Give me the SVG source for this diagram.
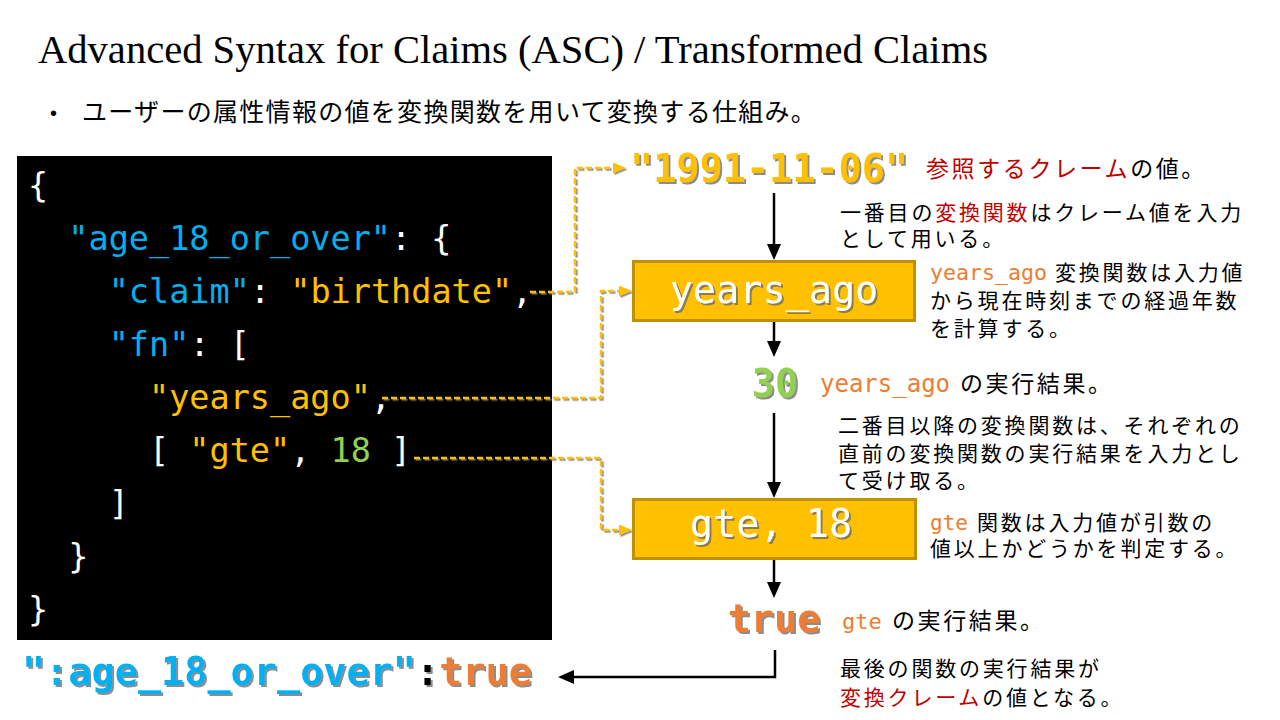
<svg xmlns="http://www.w3.org/2000/svg" width="1280" height="720" viewBox="0 0 1280 720">
<defs>
<style>
.title{font-family:"Liberation Serif","Noto Serif",serif;font-size:40px;fill:#000}
.jp{font-family:"Noto Sans CJK JP",sans-serif;font-size:21px;letter-spacing:2.8px;fill:#000}
.jpl{font-family:"Noto Sans CJK JP",sans-serif;font-size:23px;letter-spacing:2.6px;fill:#000}
.mono{font-family:"DejaVu Sans Mono","Liberation Mono",monospace;letter-spacing:0}
.code{font-family:"DejaVu Sans Mono","Liberation Mono",monospace;font-size:33.5px;fill:#fff}
.big{font-family:"DejaVu Sans Mono","Liberation Mono",monospace;font-size:38.5px}
.red{fill:#C00000}
.org{fill:#ED7D31}
.blu{fill:#00B0F0}
.gld{fill:#FFC000}
.grn{fill:#92D050}
.wht{fill:#fff}
.box{fill:#FFC000;stroke:#BF9000;stroke-width:3}
.arr{fill:none;stroke:#000;stroke-width:2.5}
.dash{fill:none;stroke:#FFC000;stroke-width:2.5;stroke-dasharray:6 3}
</style>
<filter id="ts" x="-10%" y="-30%" width="130%" height="170%">
<feDropShadow dx="2" dy="2" stdDeviation="0.5" flood-color="#666" flood-opacity="0.75"/>
</filter>
<filter id="ls" x="-10%" y="-10%" width="130%" height="130%">
<feDropShadow dx="1.5" dy="1.5" stdDeviation="0.3" flood-color="#777" flood-opacity="0.85"/>
</filter>
<marker id="ah" markerUnits="userSpaceOnUse" markerWidth="16" markerHeight="14" refX="0" refY="7" orient="auto">
<path d="M0,0 L16,7 L0,14 z" fill="#000"/>
</marker>
<marker id="yh" markerUnits="userSpaceOnUse" markerWidth="13" markerHeight="11" refX="0" refY="5.5" orient="auto">
<path d="M0,0 L13,5.5 L0,11 z" fill="#FFC000"/>
</marker>
</defs>
<rect width="1280" height="720" fill="#fff"/>

<g id="title">
<text class="title" x="38" y="63" textLength="950" lengthAdjust="spacingAndGlyphs">Advanced Syntax for Claims (ASC) / Transformed Claims</text>
</g>

<g id="bullet">
<text x="50" y="120" font-family="Liberation Sans,sans-serif" font-size="20">•</text>
<text x="82" y="121" font-family="Noto Sans CJK JP,sans-serif" font-size="25" letter-spacing="1.3">ユーザーの属性情報の値を変換関数を用いて変換する仕組み。</text>
</g>

<g id="code-block">
<rect x="17" y="156" width="535" height="484" fill="#000"/>
<text class="code" x="28" y="197">{</text>
<text class="code" x="68.3" y="250" xml:space="preserve"><tspan class="blu">"age_18_or_over"</tspan>: {</text>
<text class="code" x="108.7" y="303" xml:space="preserve"><tspan class="blu">"claim"</tspan>: <tspan class="gld">"birthdate"</tspan>,</text>
<text class="code" x="108.7" y="356" xml:space="preserve"><tspan class="blu">"fn"</tspan>: [</text>
<text class="code" x="149" y="409" xml:space="preserve"><tspan class="gld">"years_ago"</tspan>,</text>
<text class="code" x="149" y="462" xml:space="preserve">[ <tspan class="gld">"gte"</tspan>, <tspan class="grn">18</tspan> ]</text>
<text class="code" x="108.7" y="515">]</text>
<text class="code" x="68.3" y="568">}</text>
<text class="code" x="28" y="621">}</text>
</g>

<g id="connectors">
<g filter="url(#ls)">
<path class="dash" d="M530,292 H575 V168 H613" marker-end="url(#yh)"/>
<path class="dash" d="M382,398 H601 V291 H619" marker-end="url(#yh)"/>
<path class="dash" d="M414,458 H601 V530 H619" marker-end="url(#yh)"/>
</g>
<path class="arr" d="M774,193 V244" marker-end="url(#ah)"/>
<path class="arr" d="M774,322 V341" marker-end="url(#ah)"/>
<path class="arr" d="M774,413 V482" marker-end="url(#ah)"/>
<path class="arr" d="M774,560 V582" marker-end="url(#ah)"/>
<path class="arr" d="M775,650 V677 H574" marker-end="url(#ah)"/>
</g>

<g id="node-claim-value">
<text class="big gld" x="630" y="182" font-weight="bold" filter="url(#ts)">"1991-11-06"</text>
<text class="jpl" x="926" y="177" letter-spacing="3.1"><tspan class="red">参照するクレーム</tspan>の値。</text>
</g>

<g id="note-first">
<text class="jp" x="840" y="220"><tspan>一番目の</tspan><tspan class="red">変換関数</tspan><tspan>はクレーム値を入力</tspan></text>
<text class="jp" x="840" y="246">として用いる。</text>
</g>

<g id="node-years-ago">
<rect class="box" x="633.5" y="261.5" width="281" height="59"/>
<text class="big wht" x="774" y="303" text-anchor="middle" filter="url(#ts)">years_ago</text>
<text class="jp" y="280"><tspan class="mono org" x="930" font-size="21.6">years_ago</tspan><tspan x="1055">変換関数は入力値</tspan></text>
<text class="jp" x="930" y="308">から現在時刻までの経過年数</text>
<text class="jp" x="930" y="336">を計算する。</text>
</g>

<g id="node-30">
<text class="big grn" x="775" y="397" text-anchor="middle" font-weight="bold" filter="url(#ts)">30</text>
<text class="jpl" y="392"><tspan class="mono org" x="820" font-size="24">years_ago</tspan><tspan x="960">の実行結果。</tspan></text>
</g>

<g id="note-second">
<text class="jp" x="838" y="433">二番目以降の変換関数は、それぞれの</text>
<text class="jp" x="838" y="461">直前の変換関数の実行結果を入力とし</text>
<text class="jp" x="838" y="488">て受け取る。</text>
</g>

<g id="node-gte">
<rect class="box" x="633.5" y="499.5" width="282" height="59"/>
<text class="big wht" x="771" y="537" text-anchor="middle" filter="url(#ts)">gte, 18</text>
<text class="jp" y="530"><tspan class="mono org" x="930" font-size="21">gte</tspan><tspan x="977">関数は入力値が引数の</tspan></text>
<text class="jp" x="930" y="556">値以上かどうかを判定する。</text>
</g>

<g id="node-true">
<text class="big org" x="774" y="632" text-anchor="middle" font-weight="bold" filter="url(#ts)">true</text>
<text class="jpl" y="629"><tspan class="mono org" x="842" font-size="22">gte</tspan><tspan x="892">の実行結果。</tspan></text>
</g>

<g id="note-last">
<text class="jp" x="840" y="676">最後の関数の実行結果が</text>
<text class="jp" x="840" y="705"><tspan class="red">変換クレーム</tspan>の値となる。</text>
</g>

<g id="node-result">
<text class="big" x="22" y="685" font-weight="bold" filter="url(#ts)" xml:space="preserve"><tspan class="blu">":age_18_or_over"</tspan><tspan fill="#000">:</tspan><tspan class="org">true</tspan></text>
</g>
</svg>
